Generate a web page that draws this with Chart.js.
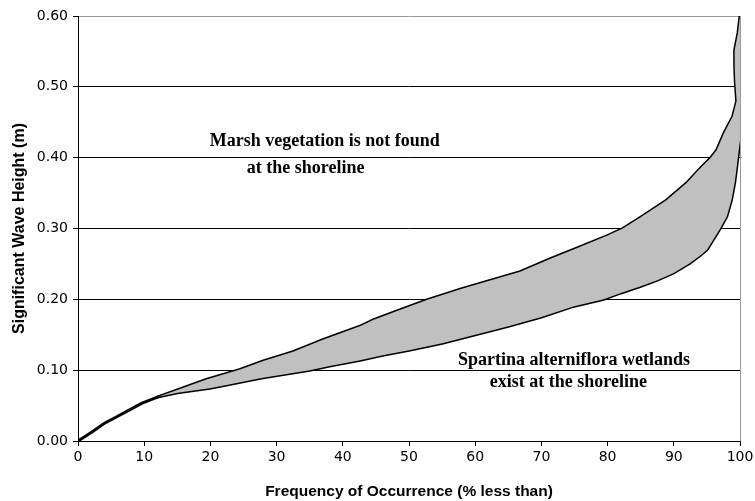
<!DOCTYPE html>
<html>
<head>
<meta charset="utf-8">
<script src="https://cdn.jsdelivr.net/npm/chart.js@4.4.1/dist/chart.umd.min.js"></script>
<style>
  html, body { margin: 0; padding: 0; background: #fff; }
</style>
</head>
<body>
<canvas id="myChart" width="755" height="501"></canvas>
<script>
// upper (left) boundary of the band - % less than vs wave height
const upperX = [0, 2, 4, 6, 8, 9.6, 12, 15, 19.4, 24.5, 28, 32.5, 37, 42.6, 44.6, 48, 52.7, 58, 62, 66.8, 71.3, 75.8, 80, 82.3, 85, 88.9, 91.9, 94, 95.6, 96.5, 97.6, 98.9, 99.5, 99.3, 99.2, 99.2, 99.7, 100];
const upperY = [0, 0.012, 0.025, 0.035, 0.045, 0.053, 0.062, 0.072, 0.087, 0.101, 0.113, 0.126, 0.143, 0.162, 0.171, 0.183, 0.199, 0.215, 0.226, 0.239, 0.257, 0.274, 0.29, 0.30, 0.316, 0.34, 0.364, 0.385, 0.40, 0.411, 0.435, 0.458, 0.48, 0.505, 0.53, 0.552, 0.576, 0.60];
// lower (right) boundary
const lowerX = [12, 15, 19.9, 23, 27.5, 31, 35, 38, 42.6, 46, 50, 55, 60, 65, 70, 74.8, 79.4, 82, 84.9, 87.5, 89.9, 92.4, 94, 95, 96, 97, 98, 98.7, 99.2, 99.5, 99.8, 100];
const lowerY = [0.062, 0.068, 0.0744, 0.08, 0.0886, 0.094, 0.10, 0.106, 0.114, 0.121, 0.128, 0.138, 0.15, 0.162, 0.175, 0.19, 0.20, 0.209, 0.218, 0.227, 0.237, 0.251, 0.262, 0.27, 0.285, 0.30, 0.317, 0.34, 0.365, 0.387, 0.41, 0.425];

const noteText = ['Marsh vegetation is not found', 'at the shoreline', 'Spartina alterniflora wetlands', 'exist at the shoreline'];
const noteX = [19.9, 25.5, 57.4, 62.2];
const noteY = [0.416, 0.379, 0.107, 0.0763];

function pts(xs, ys) {
    let out = [];
    for (let i = 0; i < xs.length; i++) {
        out.push({x: xs[i], y: ys[i]});
    }
    return out;
}

// shaded band = upper curve from the split point, then the lower curve back
let band = pts(upperX, upperY).filter(p => p.x >= 12 && p.y >= 0.062);
band = band.concat(pts(lowerX, lowerY).reverse());

const notesPlugin = {
    id: 'notes',
    afterDraw(chart) {
        const {ctx, scales: {x, y}} = chart;
        ctx.save();
        ctx.font = 'bold 18px "Liberation Serif", serif';
        ctx.fillStyle = '#000';
        ctx.textAlign = 'left';
        ctx.textBaseline = 'alphabetic';
        for (let i = 0; i < noteText.length; i++) {
            ctx.fillText(noteText[i], x.getPixelForValue(noteX[i]), y.getPixelForValue(noteY[i]));
        }
        ctx.restore();
    }
};

const ctx = document.getElementById('myChart');
let myChart = new Chart(ctx, {
    type: 'line',
    data: {
        datasets: [{
            data: band,
            fill: 'shape',
            backgroundColor: '#c0c0c0',
            borderWidth: 0,
            borderColor: 'rgba(0,0,0,0)',
            pointRadius: 0,
            tension: 0,
        }, {
            data: pts(upperX, upperY),
            fill: false,
            borderColor: '#000',
            borderWidth: 3,
            pointRadius: 0,
            tension: 0,
        }, {
            data: pts(lowerX, lowerY),
            fill: false,
            borderColor: '#000',
            borderWidth: 3,
            pointRadius: 0,
            tension: 0,
        }]
    },
    options: {
        responsive: false,
        animation: false,
        layout: {padding: {top: 16, right: 15, left: 0, bottom: 0}},
        plugins: {
            legend: {display: false},
            tooltip: {enabled: false},
        },
        scales: {
            x: {
                type: 'linear',
                min: 0,
                max: 100,
                afterFit: s => { s.height = 60; s.paddingLeft = 0; s.paddingRight = 0; },
                border: {color: '#000', width: 1},
                grid: {
                    color: c => c.tick && c.tick.value === 100 ? '#9a9a9a' : 'rgba(0,0,0,0)',
                    tickColor: '#000',
                    tickLength: 5,
                },
                ticks: {
                    stepSize: 10,
                    padding: 3,
                    color: '#000',
                    font: {family: '"DejaVu Sans", Arial', size: 14},
                    maxRotation: 0,
                },
                title: {
                    display: true,
                    text: 'Frequency of Occurrence (% less than)',
                    color: '#000',
                    font: {family: '"Liberation Sans", Arial', size: 15.5, weight: 'bold'},
                    padding: {top: 0, bottom: 0},
                },
            },
            y: {
                type: 'linear',
                min: 0,
                max: 0.6,
                z: 1,
                afterFit: s => { s.width = 78; s.paddingTop = 0; s.paddingBottom = 0; },
                border: {color: '#000', width: 1},
                grid: {
                    color: c => c.tick && Math.abs(c.tick.value - 0.6) < 1e-6 ? '#9a9a9a' : '#000',
                    tickColor: '#000',
                    tickLength: 5,
                },
                ticks: {
                    stepSize: 0.1,
                    padding: 5,
                    color: '#000',
                    font: {family: '"DejaVu Sans", Arial', size: 14},
                    callback: v => v.toFixed(2),
                },
                title: {
                    display: true,
                    text: 'Significant Wave Height (m)',
                    color: '#000',
                    font: {family: '"Liberation Sans", Arial', size: 16, weight: 'bold'},
                    padding: {top: 10, bottom: 10},
                },
            }
        }
    },
    plugins: [notesPlugin]
});
</script>
</body>
</html>
